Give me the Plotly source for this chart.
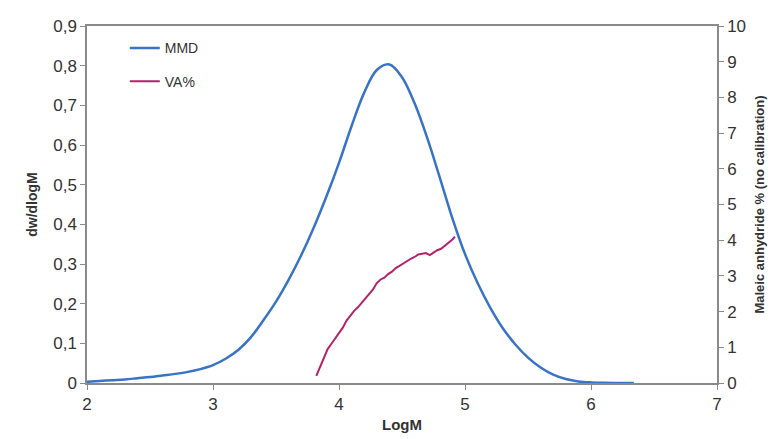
import plotly.graph_objects as go

# MMD curve (dw/dlogM vs LogM)
mmd_logm = [2.0, 2.1, 2.2, 2.3, 2.4, 2.5, 2.6, 2.7, 2.8, 2.9, 3.0, 3.1, 3.2, 3.3, 3.4, 3.5,
            3.6, 3.7, 3.8, 3.9, 4.0, 4.1, 4.2, 4.3, 4.4, 4.5, 4.6, 4.7, 4.8, 4.9, 5.0,
            5.1, 5.2, 5.3, 5.4, 5.5, 5.6, 5.7, 5.8, 5.9, 6.0, 6.1, 6.2, 6.34]
mmd_val = [0.003, 0.005, 0.007, 0.009, 0.012, 0.015, 0.019, 0.023, 0.028, 0.035, 0.045, 0.061,
           0.083, 0.115, 0.158, 0.205, 0.26, 0.322, 0.392, 0.47, 0.555, 0.648, 0.732, 0.789, 0.803,
           0.771, 0.705, 0.618, 0.518, 0.415, 0.325, 0.252, 0.19, 0.138, 0.097, 0.064,
           0.039, 0.021, 0.01, 0.004, 0.0015, 0.0005, 0.0002, 0.0]

# VA% curve (Maleic anhydride %, right axis)
va_logm = [3.82, 3.85, 3.88, 3.91, 3.94, 3.97, 4.00, 4.03, 4.06, 4.09, 4.12, 4.15, 4.18, 4.21,
           4.24, 4.27, 4.30, 4.33, 4.36, 4.39, 4.42, 4.45, 4.48, 4.51, 4.54, 4.57, 4.60, 4.63,
           4.66, 4.69, 4.72, 4.75, 4.78, 4.81, 4.84, 4.87, 4.90, 4.92]
va_val = [0.2, 0.45, 0.7, 0.95, 1.1, 1.25, 1.40, 1.55, 1.75, 1.90, 2.02, 2.12, 2.25, 2.38,
          2.50, 2.62, 2.80, 2.90, 2.95, 3.05, 3.12, 3.22, 3.28, 3.35, 3.42, 3.48, 3.53, 3.60,
          3.62, 3.64, 3.58, 3.66, 3.72, 3.76, 3.85, 3.92, 4.02, 4.10]

x_ticks = [2, 3, 4, 5, 6, 7]

AXIS = "#8a8a8a"
TXT = "#333333"
FONT = "Liberation Sans, Arial, sans-serif"

fig = go.Figure()
fig.add_trace(go.Scatter(x=mmd_logm, y=mmd_val, mode="lines", name="MMD",
                         line=dict(color="#3873c8", width=2.5, shape="spline", smoothing=1.0),
                         legendgroup="a"))
fig.add_trace(go.Scatter(x=va_logm, y=va_val, mode="lines", name="VA%", yaxis="y2",
                         line=dict(color="#b3236b", width=2),
                         legendgroup="b"))

fig.update_layout(
    width=780, height=439,
    margin=dict(l=79, r=71, t=9, b=64),
    paper_bgcolor="white", plot_bgcolor="white",
    separators=",.",
    font=dict(family=FONT, color=TXT, size=17),
    showlegend=True,
    legend=dict(x=0.06, y=0.982, xanchor="left", yanchor="top",
                bgcolor="rgba(0,0,0,0)", font=dict(size=14, color=TXT),
                tracegroupgap=12, traceorder="grouped", itemwidth=30),
    xaxis=dict(range=[2, 7], tickvals=x_ticks, showline=True, linecolor=AXIS, linewidth=1.5,
               mirror=True, ticks="outside", ticklen=5, tickcolor=AXIS, showgrid=False,
               zeroline=False,
               title=dict(text="<b>LogM</b>", font=dict(size=15, color=TXT), standoff=6)),
    yaxis=dict(range=[0, 0.9], dtick=0.1, showline=True, linecolor=AXIS, linewidth=1.5,
               ticks="outside", ticklen=5, tickcolor=AXIS, showgrid=False, zeroline=False,
               title=dict(text="<b>dw/dlogM</b>", font=dict(size=14, color=TXT), standoff=12)),
    yaxis2=dict(range=[0, 10], dtick=1, overlaying="y", side="right", showline=True,
                linecolor=AXIS, linewidth=1.5, ticks="outside", ticklen=5, tickcolor=AXIS,
                showgrid=False, zeroline=False,
                title=dict(text="<b>Maleic anhydride % (no calibration)</b>",
                           font=dict(size=13, color=TXT), standoff=10)),
)

fig.write_html("out.html")
